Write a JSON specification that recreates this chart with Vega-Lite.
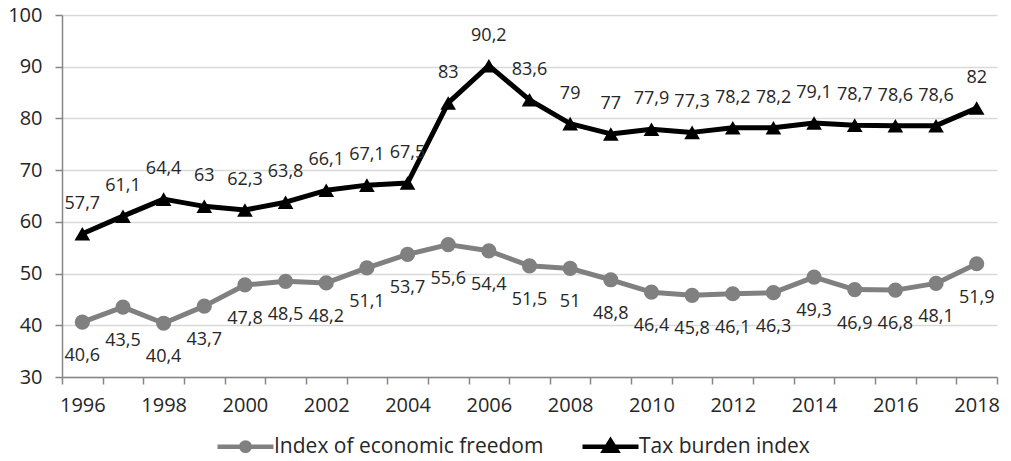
{
  "$schema": "https://vega.github.io/schema/vega-lite/v6.json",
  "width": 935,
  "height": 362,
  "autosize": {"type": "none"},
  "padding": {"left": 62, "top": 15, "right": 14, "bottom": 84},
  "config": {
    "view": {"stroke": null},
    "font": "Open Sans",
    "locale": {"number": {"decimal": ",", "thousands": " ", "grouping": [3], "currency": ["", ""]}},
    "legend": {
      "title": null,
      "orient": "none",
      "direction": "horizontal",
      "legendX": 173,
      "legendY": 421,
      "padding": 0,
      "symbolSize": 196,
      "labelOffset": 18,
      "labelFontSize": 21,
      "labelLimit": 500,
      "labelColor": "#262626",
      "columnPadding": 29
    }
  },
  "data": {
    "values": [
      {"year": 1996, "series": "Index of economic freedom", "value": 40.6},
      {"year": 1997, "series": "Index of economic freedom", "value": 43.5},
      {"year": 1998, "series": "Index of economic freedom", "value": 40.4},
      {"year": 1999, "series": "Index of economic freedom", "value": 43.7},
      {"year": 2000, "series": "Index of economic freedom", "value": 47.8},
      {"year": 2001, "series": "Index of economic freedom", "value": 48.5},
      {"year": 2002, "series": "Index of economic freedom", "value": 48.2},
      {"year": 2003, "series": "Index of economic freedom", "value": 51.1},
      {"year": 2004, "series": "Index of economic freedom", "value": 53.7},
      {"year": 2005, "series": "Index of economic freedom", "value": 55.6},
      {"year": 2006, "series": "Index of economic freedom", "value": 54.4},
      {"year": 2007, "series": "Index of economic freedom", "value": 51.5},
      {"year": 2008, "series": "Index of economic freedom", "value": 51},
      {"year": 2009, "series": "Index of economic freedom", "value": 48.8},
      {"year": 2010, "series": "Index of economic freedom", "value": 46.4},
      {"year": 2011, "series": "Index of economic freedom", "value": 45.8},
      {"year": 2012, "series": "Index of economic freedom", "value": 46.1},
      {"year": 2013, "series": "Index of economic freedom", "value": 46.3},
      {"year": 2014, "series": "Index of economic freedom", "value": 49.3},
      {"year": 2015, "series": "Index of economic freedom", "value": 46.9},
      {"year": 2016, "series": "Index of economic freedom", "value": 46.8},
      {"year": 2017, "series": "Index of economic freedom", "value": 48.1},
      {"year": 2018, "series": "Index of economic freedom", "value": 51.9},
      {"year": 1996, "series": "Tax burden index", "value": 57.7},
      {"year": 1997, "series": "Tax burden index", "value": 61.1},
      {"year": 1998, "series": "Tax burden index", "value": 64.4},
      {"year": 1999, "series": "Tax burden index", "value": 63},
      {"year": 2000, "series": "Tax burden index", "value": 62.3},
      {"year": 2001, "series": "Tax burden index", "value": 63.8},
      {"year": 2002, "series": "Tax burden index", "value": 66.1},
      {"year": 2003, "series": "Tax burden index", "value": 67.1},
      {"year": 2004, "series": "Tax burden index", "value": 67.5},
      {"year": 2005, "series": "Tax burden index", "value": 83},
      {"year": 2006, "series": "Tax burden index", "value": 90.2},
      {"year": 2007, "series": "Tax burden index", "value": 83.6},
      {"year": 2008, "series": "Tax burden index", "value": 79},
      {"year": 2009, "series": "Tax burden index", "value": 77},
      {"year": 2010, "series": "Tax burden index", "value": 77.9},
      {"year": 2011, "series": "Tax burden index", "value": 77.3},
      {"year": 2012, "series": "Tax burden index", "value": 78.2},
      {"year": 2013, "series": "Tax burden index", "value": 78.2},
      {"year": 2014, "series": "Tax burden index", "value": 79.1},
      {"year": 2015, "series": "Tax burden index", "value": 78.7},
      {"year": 2016, "series": "Tax burden index", "value": 78.6},
      {"year": 2017, "series": "Tax burden index", "value": 78.6},
      {"year": 2018, "series": "Tax burden index", "value": 82}
    ]
  },
  "encoding": {
    "x": {
      "field": "year",
      "type": "ordinal",
      "scale": {"paddingInner": 0, "paddingOuter": 0},
      "axis": {
        "title": null,
        "labelAngle": 0,
        "tickBand": "extent",
        "labelExpr": "datum.value % 2 == 0 ? datum.label : ''",
        "labelFontSize": 20,
        "labelColor": "#262626",
        "labelPadding": 11,
        "tickSize": 7,
        "tickColor": "#868686",
        "tickWidth": 1.5,
        "domainColor": "#868686",
        "domainWidth": 1.5,
        "grid": false
      }
    },
    "y": {
      "field": "value",
      "type": "quantitative",
      "scale": {"domain": [30, 100], "nice": false, "zero": false},
      "axis": {
        "title": null,
        "values": [30, 40, 50, 60, 70, 80, 90, 100],
        "labelFontSize": 20,
        "labelColor": "#262626",
        "labelPadding": 13,
        "tickSize": 7,
        "tickColor": "#868686",
        "tickWidth": 1.5,
        "domainColor": "#868686",
        "domainWidth": 1.5,
        "grid": true,
        "gridColor": "#d9d9d9",
        "gridWidth": 1.5
      }
    }
  },
  "layer": [
    {
      "mark": {"type": "line", "strokeWidth": 5, "strokeJoin": "round"},
      "encoding": {
        "color": {
          "field": "series",
          "type": "nominal",
          "scale": {"domain": ["Index of economic freedom", "Tax burden index"], "range": ["#808080", "#000000"]},
          "legend": {
            "encode": {
              "symbols": {
                "update": {
                  "shape": {"signal": "datum.value === 'Tax burden index' ? 'M-4,0H4M0,-0.85L0.9,0.6L-0.9,0.6Z' : 'M-4,0H4M0.6,0A0.6,0.6,0,1,1,-0.6,0A0.6,0.6,0,1,1,0.6,0Z'"},
                  "fill": {"signal": "datum.value === 'Tax burden index' ? '#000000' : '#808080'"},
                  "stroke": {"signal": "datum.value === 'Tax burden index' ? '#000000' : '#808080'"},
                  "strokeWidth": {"value": 4.5},
                  "size": {"value": 196},
                  "opacity": {"value": 1}
                }
              }
            }
          }
        }
      }
    },
    {
      "transform": [{"filter": "datum.series === 'Index of economic freedom'"}],
      "mark": {"type": "point", "filled": true, "opacity": 1, "size": 230, "shape": "circle"},
      "encoding": {
        "color": {"field": "series", "type": "nominal"}
      }
    },
    {
      "transform": [{"filter": "datum.series === 'Tax burden index'"}],
      "mark": {"type": "point", "filled": true, "opacity": 1, "size": 245, "shape": "triangle-up"},
      "encoding": {
        "color": {"field": "series", "type": "nominal"}
      }
    },
    {
      "transform": [{"filter": "datum.series === 'Tax burden index'"}],
      "mark": {"type": "text", "dy": -30, "fontSize": 18, "color": "#262626"},
      "encoding": {"text": {"field": "value", "type": "quantitative", "format": ".3~r"}}
    },
    {
      "transform": [{"filter": "datum.series === 'Index of economic freedom'"}],
      "mark": {"type": "text", "dy": 34, "fontSize": 18, "color": "#262626"},
      "encoding": {"text": {"field": "value", "type": "quantitative", "format": ".3~r"}}
    }
  ]
}
